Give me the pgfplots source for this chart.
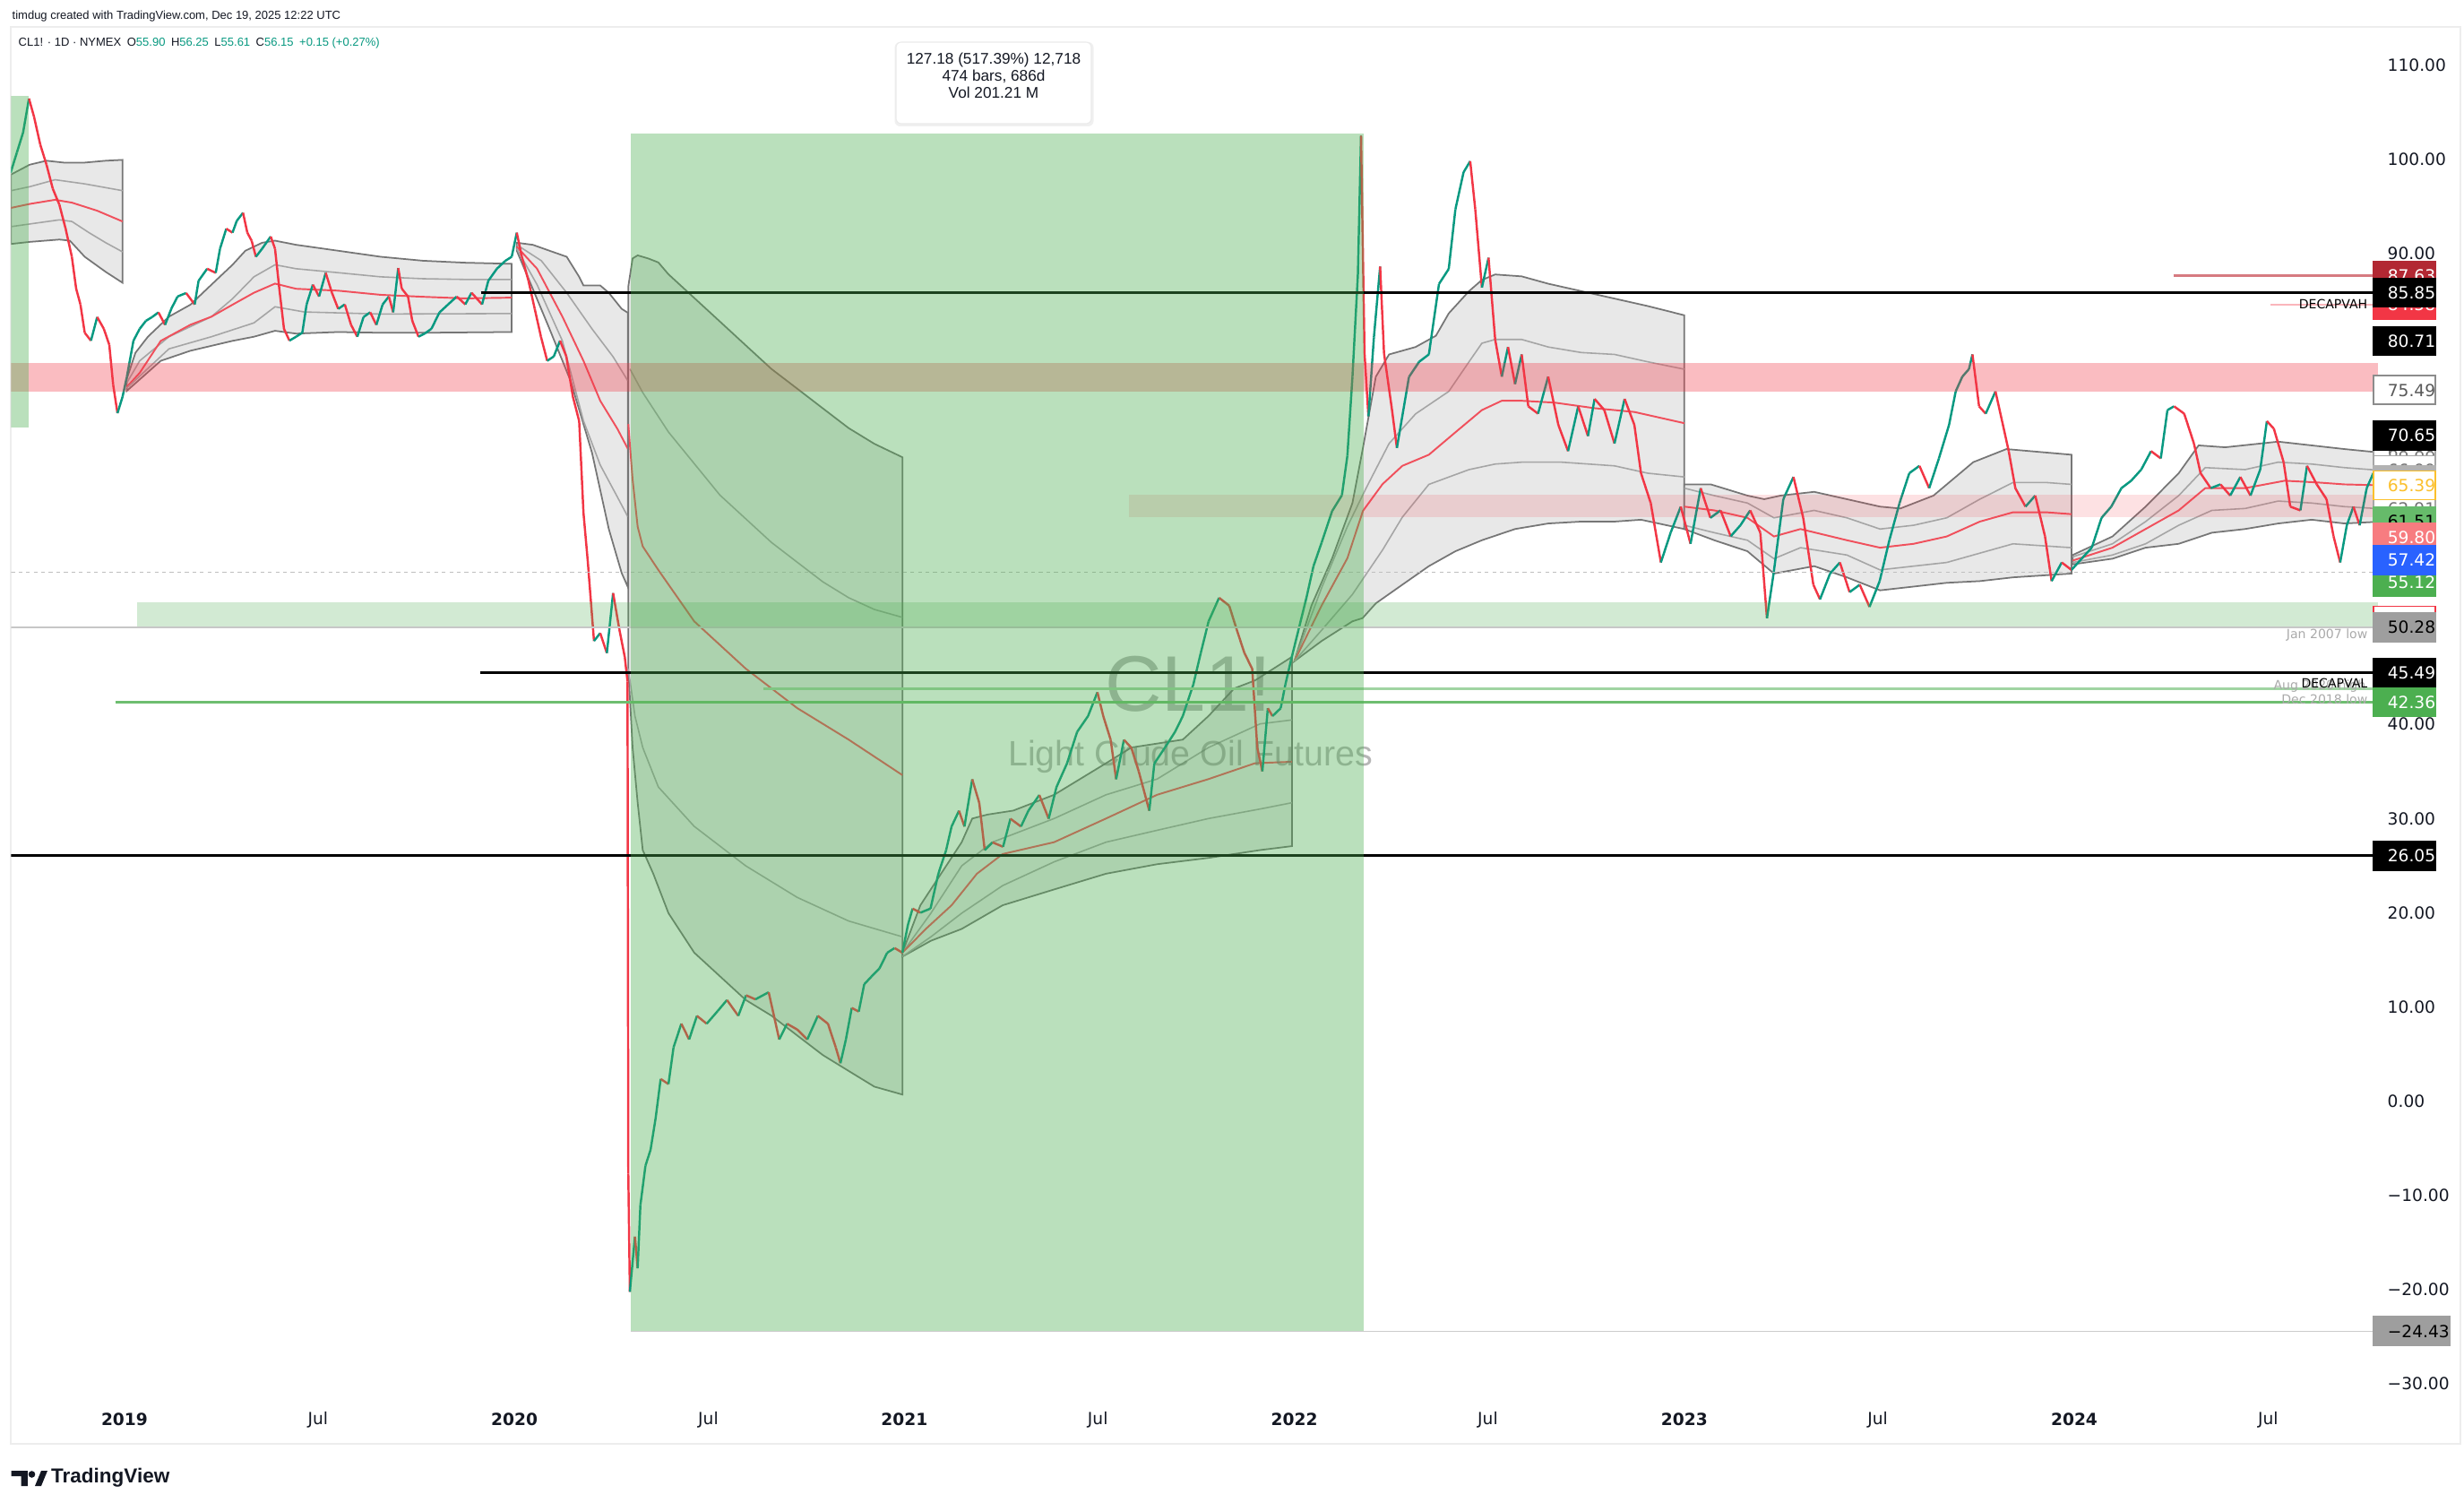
\documentclass[border=0pt]{standalone}
\usepackage{pgfplots}
\pgfplotsset{compat=1.18}
\usepackage{fontspec}
\setmainfont{Liberation Sans}
\newfontfamily\dejavu{DejaVu Sans}

\definecolor{tvgreen}{RGB}{8,153,129}
\definecolor{tvred}{RGB}{242,54,69}
\definecolor{rectgreen}{RGB}{76,175,80}
\definecolor{bandfill}{RGB}{232,232,232}
\definecolor{bandedge}{RGB}{118,118,118}
\definecolor{bandinner}{RGB}{165,165,165}
\definecolor{vwapred}{RGB}{240,80,92}
\definecolor{txtdark}{RGB}{19,23,34}
\definecolor{wm}{RGB}{110,110,110}
\definecolor{boxdred}{RGB}{178,40,51}
\definecolor{boxyellow}{RGB}{251,192,45}
\definecolor{boxlgreen}{RGB}{102,187,106}
\definecolor{boxpink}{RGB}{247,124,128}
\definecolor{boxblue}{RGB}{41,98,255}
\definecolor{boxgreen}{RGB}{76,175,80}
\definecolor{boxgray}{RGB}{158,158,158}
\definecolor{lblgray}{RGB}{170,170,170}
\definecolor{lgreen1}{RGB}{110,190,112}
\definecolor{lgreen2}{RGB}{160,212,162}

\newcommand{\tickfont}{\dejavu\fontsize{5.3pt}{6pt}\selectfont}
\newcommand{\smallfont}{\dejavu\fontsize{4pt}{5pt}\selectfont}
\newcommand{\pbox}[5]{\node[anchor=west, fill=#2, draw=#3, line width=0.45pt, inner sep=0pt, minimum height=0.32cm, text=#4, font=\tickfont] at ([xshift=-0.06cm]#1) {\hspace{0.16cm}#5\hspace{0.07cm}};}

\begin{document}
\begin{tikzpicture}[x=1cm,y=1cm]
\fill[white] (0,0) rectangle (27.5,16.76);
\draw[black!7, line width=0.4pt] (0.12,0.65) rectangle (27.46,16.46);
\begin{axis}[
  at={(0.123cm,1.15cm)}, anchor=south west,
  scale only axis, width=26.417cm, height=15.31cm,
  xmin=2018.709, xmax=2024.779, ymin=-31.64, ymax=114.06,
  clip mode=individual,
  axis line style={draw=none},
  major tick length=0pt,
  scaled x ticks=false, scaled y ticks=false,
  ytick={-30,-20,-10,0,10,20,30,40,50,60,70,80,90,100,110},
  yticklabels={−30.00,−20.00,−10.00,0.00,10.00,20.00,30.00,40.00,50.00,60.00,70.00,80.00,90.00,100.00,110.00},
  yticklabel pos=right,
  yticklabel style={anchor=west, inner sep=0pt, xshift=0.10cm, font=\tickfont, text=txtdark},
  xtick={2019,2019.496,2020,2020.497,2021,2021.496,2022,2022.496,2023,2023.496,2024,2024.497},
  xticklabels={\textbf{2019},Jul,\textbf{2020},Jul,\textbf{2021},Jul,\textbf{2022},Jul,\textbf{2023},Jul,\textbf{2024},Jul},
  xticklabel style={anchor=center, inner sep=0pt, yshift=-0.23cm, font=\tickfont, text=txtdark},
  colormap={updown}{rgb255=(242,54,69) rgb255=(8,153,129)},
  point meta min=0, point meta max=1,
]

% ---------- VWAP band A
\addplot[fill=bandfill, draw=bandedge, line width=0.5pt] coordinates {(2018.709,98.38) (2018.757,99.43) (2018.800,99.85) (2018.844,99.65) (2018.898,99.65) (2018.952,99.85) (2018.995,99.94) (2018.995,86.89) (2018.952,88.04) (2018.898,89.65) (2018.860,91.36) (2018.833,91.48) (2018.757,91.23) (2018.709,91.01)} -- cycle;
\addplot[bandinner, line width=0.45pt] coordinates {(2018.709,96.67) (2018.757,97.09) (2018.822,97.83) (2018.898,97.39) (2018.995,96.67)};
\addplot[vwapred, line width=0.55pt] coordinates {(2018.709,94.84) (2018.757,95.26) (2018.822,95.70) (2018.865,95.40) (2018.930,94.54) (2018.995,93.40)};
\addplot[bandinner, line width=0.45pt] coordinates {(2018.709,92.85) (2018.757,93.13) (2018.833,93.57) (2018.865,93.40) (2018.909,92.21) (2018.952,91.14) (2018.995,90.17)};

% ---------- band B
\addplot[fill=bandfill, draw=bandedge, line width=0.5pt] coordinates {(2019.006,76.69) (2019.028,79.45) (2019.060,81.16) (2019.114,83.29) (2019.169,84.56) (2019.223,86.69) (2019.277,88.80) (2019.310,90.29) (2019.353,91.14) (2019.386,91.36) (2019.440,90.92) (2019.548,90.29) (2019.657,89.65) (2019.765,89.23) (2019.873,89.02) (2019.993,88.90) (2019.993,81.66) (2019.765,81.58) (2019.657,81.58) (2019.548,81.66) (2019.440,81.49) (2019.386,81.79) (2019.332,81.16) (2019.277,80.72) (2019.169,79.67) (2019.093,78.60) (2019.006,75.41)} -- cycle;
\addplot[bandinner, line width=0.45pt] coordinates {(2019.006,76.27) (2019.039,78.60) (2019.114,81.16) (2019.223,83.29) (2019.277,85.19) (2019.332,87.52) (2019.386,88.80) (2019.440,88.38) (2019.548,87.96) (2019.657,87.52) (2019.765,87.32) (2019.873,87.24) (2019.993,87.24)};
\addplot[vwapred, line width=0.55pt] coordinates {(2019.006,75.83) (2019.039,77.32) (2019.093,80.72) (2019.169,82.43) (2019.223,83.29) (2019.277,84.56) (2019.332,85.83) (2019.386,86.80) (2019.440,86.25) (2019.548,86.05) (2019.657,85.61) (2019.765,85.40) (2019.873,85.23) (2019.993,85.31)};
\addplot[bandinner, line width=0.45pt] coordinates {(2019.006,75.71) (2019.114,79.87) (2019.223,81.16) (2019.332,82.63) (2019.386,84.34) (2019.461,83.79) (2019.657,83.57) (2019.993,83.62)};

% ---------- band C
\addplot[fill=bandfill, draw=bandedge, line width=0.5pt] coordinates {(2020.006,91.14) (2020.047,90.92) (2020.090,90.29) (2020.134,89.65) (2020.166,87.52) (2020.177,86.60) (2020.220,86.60) (2020.242,85.83) (2020.275,84.12) (2020.291,83.70) (2020.291,54.57) (2020.275,56.07) (2020.242,60.74) (2020.199,68.83) (2020.144,76.47) (2020.090,81.99) (2020.047,86.25) (2020.006,90.29)} -- cycle;
\addplot[bandinner, line width=0.45pt] coordinates {(2020.006,90.92) (2020.069,89.23) (2020.134,85.83) (2020.199,81.99) (2020.253,79.03) (2020.291,76.47)};
\addplot[vwapred, line width=0.55pt] coordinates {(2020.006,90.72) (2020.058,88.38) (2020.123,83.29) (2020.177,78.60) (2020.220,74.36) (2020.264,71.38) (2020.291,69.25)};
\addplot[bandinner, line width=0.45pt] coordinates {(2020.006,90.51) (2020.058,86.69) (2020.123,80.72) (2020.177,72.23) (2020.220,67.54) (2020.264,64.14) (2020.291,62.03)};

% ---------- band D
\addplot[fill=bandfill, draw=bandedge, line width=0.5pt] coordinates {(2020.292,86.5) (2020.303,89.47) (2020.316,89.80) (2020.343,89.47) (2020.369,89.05) (2020.395,87.79) (2020.461,85.28) (2020.527,82.77) (2020.593,80.25) (2020.659,77.74) (2020.725,75.65) (2020.791,73.55) (2020.857,71.46) (2020.923,69.79) (2020.995,68.36) (2020.995,0.69) (2020.923,1.53) (2020.857,3.20) (2020.791,4.88) (2020.725,6.97) (2020.659,9.07) (2020.593,10.74) (2020.527,13.25) (2020.461,15.76) (2020.395,19.95) (2020.356,24.14) (2020.329,26.65) (2020.316,31.68) (2020.303,37.54) (2020.292,45.92)} -- cycle;
\addplot[bandinner, line width=0.45pt] coordinates {(2020.296,77.74) (2020.329,75.23) (2020.395,71.04) (2020.461,67.69) (2020.527,64.34) (2020.593,61.83) (2020.659,59.32) (2020.725,57.22) (2020.791,55.13) (2020.857,53.45) (2020.923,52.20) (2020.995,51.36)};
\addplot[vwapred, line width=0.55pt] coordinates {(2020.292,71.88) (2020.303,66.02) (2020.316,60.99) (2020.329,58.90) (2020.369,56.39) (2020.461,50.94) (2020.593,45.92) (2020.725,41.73) (2020.857,38.38) (2020.995,34.61)};
\addplot[bandinner, line width=0.45pt] coordinates {(2020.292,45.92) (2020.309,40.89) (2020.329,37.54) (2020.369,33.35) (2020.461,29.17) (2020.593,24.98) (2020.725,21.63) (2020.857,19.12) (2020.995,17.44)};

% ---------- band E
\addplot[fill=bandfill, draw=bandedge, line width=0.5pt] coordinates {(2020.995,15.76) (2021.041,20.79) (2021.094,24.14) (2021.147,27.49) (2021.174,30.00) (2021.213,30.42) (2021.279,30.84) (2021.384,32.52) (2021.517,35.87) (2021.582,37.54) (2021.648,37.96) (2021.714,38.38) (2021.780,40.89) (2021.846,43.82) (2021.899,44.66) (2021.994,47.17) (2021.994,27.07) (2021.912,26.65) (2021.780,25.82) (2021.648,25.15) (2021.517,24.14) (2021.384,22.47) (2021.252,20.79) (2021.147,18.28) (2021.068,17.02) (2020.995,15.34)} -- cycle;
\addplot[bandinner, line width=0.45pt] coordinates {(2020.995,15.76) (2021.068,19.95) (2021.147,24.98) (2021.226,27.49) (2021.384,30.00) (2021.517,32.52) (2021.648,34.19) (2021.780,37.54) (2021.912,40.05) (2021.994,40.47)};
\addplot[vwapred, line width=0.55pt] coordinates {(2020.995,15.76) (2021.055,18.28) (2021.121,20.79) (2021.186,24.14) (2021.252,26.23) (2021.384,27.49) (2021.517,30.00) (2021.648,32.52) (2021.780,34.19) (2021.899,35.87) (2021.994,36.03)};
\addplot[bandinner, line width=0.45pt] coordinates {(2020.995,15.34) (2021.068,17.44) (2021.147,19.95) (2021.252,22.88) (2021.384,25.40) (2021.517,27.49) (2021.648,28.75) (2021.780,30.00) (2021.912,31.01) (2021.994,31.68)};

% ---------- band F
\addplot[fill=bandfill, draw=bandedge, line width=0.5pt] coordinates {(2022.000,46.7) (2022.044,52.62) (2022.097,57.64) (2022.149,63.50) (2022.176,69.37) (2022.209,76.92) (2022.243,79.28) (2022.311,80.07) (2022.363,81.26) (2022.396,83.64) (2022.448,86.00) (2022.481,87.19) (2022.515,87.77) (2022.583,87.57) (2022.651,86.79) (2022.736,86.00) (2022.821,85.21) (2022.906,84.42) (2023.000,83.44) (2023.000,60.74) (2022.889,61.73) (2022.821,61.53) (2022.736,61.53) (2022.651,61.33) (2022.566,60.74) (2022.481,59.55) (2022.413,58.38) (2022.345,56.80) (2022.277,54.83) (2022.209,52.85) (2022.175,51.28) (2022.149,50.94) (2022.070,48.85)} -- cycle;
\addplot[bandinner, line width=0.45pt] coordinates {(2022.000,46.7) (2022.070,54.5) (2022.136,61.0) (2022.184,65.08) (2022.243,69.82) (2022.311,72.97) (2022.396,75.35) (2022.448,78.50) (2022.481,80.47) (2022.515,80.87) (2022.583,80.87) (2022.651,80.07) (2022.736,79.48) (2022.821,79.28) (2022.906,78.50) (2023.000,77.71)};
\addplot[vwapred, line width=0.55pt] coordinates {(2022.000,46.7) (2022.070,52.62) (2022.136,57.64) (2022.176,62.67) (2022.226,65.5) (2022.277,67.45) (2022.345,68.63) (2022.413,71.01) (2022.481,73.37) (2022.532,74.36) (2022.583,74.36) (2022.668,74.16) (2022.770,73.57) (2022.872,73.17) (2023.000,71.98)};
\addplot[bandinner, line width=0.45pt] coordinates {(2022.000,46.7) (2022.070,50.0) (2022.149,53.8) (2022.226,58.5) (2022.277,62.0) (2022.345,65.48) (2022.448,67.05) (2022.515,67.64) (2022.583,67.84) (2022.685,67.84) (2022.821,67.45) (2022.906,66.67) (2023.000,66.27)};

% ---------- band G
\addplot[fill=bandfill, draw=bandedge, line width=0.5pt] coordinates {(2023.000,65.48) (2023.068,65.48) (2023.162,64.29) (2023.205,63.91) (2023.247,64.29) (2023.333,64.69) (2023.502,63.12) (2023.554,62.92) (2023.639,64.29) (2023.741,67.84) (2023.826,69.23) (2023.993,68.63) (2023.993,56.01) (2023.843,55.61) (2023.758,55.21) (2023.673,55.03) (2023.588,54.63) (2023.502,54.23) (2023.417,55.61) (2023.333,56.80) (2023.230,56.01) (2023.162,58.38) (2023.077,59.55) (2023.000,60.74)} -- cycle;
\addplot[bandinner, line width=0.45pt] coordinates {(2023.000,65.08) (2023.077,64.29) (2023.162,63.50) (2023.230,61.93) (2023.333,62.72) (2023.417,61.93) (2023.502,60.74) (2023.588,61.14) (2023.673,61.93) (2023.758,63.91) (2023.843,65.68) (2023.928,65.68) (2023.993,65.48)};
\addplot[vwapred, line width=0.55pt] coordinates {(2023.000,63.12) (2023.077,62.72) (2023.162,61.93) (2023.230,59.95) (2023.298,60.74) (2023.417,59.55) (2023.502,58.76) (2023.588,59.17) (2023.673,59.95) (2023.758,61.53) (2023.843,62.52) (2023.928,62.52) (2023.993,62.32)};
\addplot[bandinner, line width=0.45pt] coordinates {(2023.000,61.14) (2023.077,60.35) (2023.162,59.55) (2023.230,57.59) (2023.298,58.76) (2023.417,57.98) (2023.502,56.40) (2023.588,56.80) (2023.673,57.19) (2023.758,58.18) (2023.843,59.17) (2023.993,58.76)};

% ---------- band H
\addplot[fill=bandfill, draw=bandedge, line width=0.5pt] coordinates {(2023.996,57.98) (2024.098,59.95) (2024.183,63.12) (2024.268,66.67) (2024.319,69.62) (2024.387,69.42) (2024.523,70.02) (2024.609,69.62) (2024.693,69.23) (2024.779,68.88) (2024.779,61.51) (2024.693,61.33) (2024.609,61.73) (2024.523,61.33) (2024.438,60.74) (2024.353,60.35) (2024.268,59.17) (2024.183,58.76) (2024.098,57.59) (2023.996,56.99)} -- cycle;
\addplot[bandinner, line width=0.45pt] coordinates {(2023.996,57.79) (2024.098,59.17) (2024.183,61.53) (2024.268,64.29) (2024.336,67.26) (2024.438,67.05) (2024.523,67.84) (2024.609,67.64) (2024.693,67.26) (2024.779,66.99)};
\addplot[vwapred, line width=0.55pt] coordinates {(2023.996,57.39) (2024.098,58.76) (2024.183,60.74) (2024.268,62.72) (2024.336,65.08) (2024.438,65.08) (2024.540,65.87) (2024.626,65.68) (2024.693,65.48) (2024.779,65.39)};
\addplot[bandinner, line width=0.45pt] coordinates {(2023.996,57.19) (2024.098,57.98) (2024.183,59.17) (2024.268,61.14) (2024.353,62.72) (2024.438,62.92) (2024.523,63.71) (2024.609,63.50) (2024.693,63.12) (2024.779,62.91)};

% watermark (above the bands, below the price)
\node[font=\fontsize{25pt}{25pt}\selectfont, text=wm, text opacity=0.5] at (axis cs:2021.728,44.31) {CL1!};
\node[font=\fontsize{11.2pt}{12pt}\selectfont, text=wm, text opacity=0.5] at (axis cs:2021.734,36.6) {Light Crude Oil Futures};

% ---------- price (segments coloured by direction)
\addplot[mesh, shader=flat corner, point meta=explicit, line width=0.7pt] table[x=x, y=y, meta=m] {
x y m
2018.708 98.58 1
2018.724 100.71 1
2018.740 102.85 1
2018.755 106.45 0
2018.768 104.52 0
2018.784 101.56 0
2018.800 99.43 0
2018.816 96.89 0
2018.833 95.18 0
2018.849 92.63 0
2018.865 89.65 0
2018.876 86.27 0
2018.887 84.59 0
2018.898 81.58 0
2018.914 80.74 1
2018.930 83.25 0
2018.947 82.00 0
2018.961 80.30 0
2018.971 76.05 0
2018.982 73.04 1
2018.995 74.78 1
2019.006 76.89 1
2019.023 80.74 1
2019.039 82.00 1
2019.055 82.85 1
2019.071 83.25 1
2019.087 83.75 0
2019.104 82.42 1
2019.120 84.12 1
2019.136 85.43 1
2019.158 85.80 0
2019.180 84.59 1
2019.190 87.10 1
2019.212 88.38 0
2019.234 87.94 1
2019.245 90.51 1
2019.261 92.63 0
2019.277 92.21 1
2019.288 93.47 1
2019.304 94.32 0
2019.315 92.21 0
2019.326 91.36 0
2019.337 89.65 1
2019.353 90.51 1
2019.375 91.80 0
2019.386 90.51 0
2019.397 86.27 0
2019.409 82.00 0
2019.423 80.74 1
2019.440 81.16 1
2019.456 81.58 1
2019.467 84.59 1
2019.483 86.69 0
2019.499 85.43 1
2019.516 87.94 0
2019.532 85.83 0
2019.548 84.12 1
2019.565 84.59 0
2019.581 82.42 0
2019.597 81.16 1
2019.613 83.25 1
2019.630 83.75 0
2019.646 82.42 1
2019.662 84.59 1
2019.678 85.43 0
2019.689 83.75 1
2019.702 88.45 0
2019.711 86.27 0
2019.727 85.43 0
2019.738 82.85 0
2019.754 81.16 1
2019.770 81.50 1
2019.787 82.00 1
2019.808 83.75 1
2019.830 84.59 1
2019.852 85.43 0
2019.874 84.59 1
2019.890 85.83 0
2019.917 84.59 1
2019.933 87.10 1
2019.955 88.38 1
2019.977 89.23 1
2019.993 89.65 1
2020.006 92.21 0
2020.019 89.65 0
2020.036 87.10 0
2020.052 84.12 0
2020.068 81.16 0
2020.084 78.60 1
2020.101 79.07 1
2020.117 80.74 0
2020.133 79.07 0
2020.150 74.78 0
2020.166 72.20 0
2020.177 62.48 0
2020.188 57.34 0
2020.204 48.85 1
2020.220 49.69 0
2020.237 47.57 1
2020.253 53.94 0
2020.269 50.09 0
2020.283 47.14 0
2020.290 44.56 0
2020.292 -7.70 0
2020.296 -20.26 1
2020.309 -14.40 0
2020.316 -17.75 1
2020.323 -11.05 1
2020.336 -6.86 1
2020.349 -5.19 1
2020.362 -1.84 1
2020.375 2.35 0
2020.395 1.80 1
2020.408 5.70 1
2020.428 8.21 0
2020.448 6.54 1
2020.468 9.05 0
2020.493 8.21 1
2020.521 9.55 1
2020.545 10.73 0
2020.574 9.05 1
2020.594 11.23 0
2020.618 10.80 1
2020.652 11.56 0
2020.679 6.54 1
2020.699 8.21 0
2020.725 7.60 0
2020.751 6.54 1
2020.778 9.05 0
2020.804 8.21 0
2020.824 5.70 0
2020.836 4.02 1
2020.850 6.54 1
2020.865 9.89 0
2020.883 9.50 1
2020.897 12.40 1
2020.916 13.24 1
2020.936 14.08 1
2020.956 15.75 1
2020.975 16.25 0
2020.995 15.75 1
2021.009 18.70 1
2021.021 20.44 0
2021.041 20.00 1
2021.067 20.44 1
2021.087 24.13 1
2021.107 26.64 1
2021.121 29.15 1
2021.140 30.83 0
2021.154 29.15 1
2021.174 34.17 0
2021.192 31.66 0
2021.206 26.64 1
2021.226 27.47 0
2021.253 27.00 1
2021.272 29.98 0
2021.299 29.15 1
2021.318 30.83 1
2021.346 32.50 0
2021.370 29.98 1
2021.390 33.34 1
2021.417 35.85 1
2021.443 39.20 1
2021.471 40.88 1
2021.495 43.41 0
2021.510 40.88 0
2021.529 38.36 0
2021.543 34.17 1
2021.563 38.36 0
2021.582 37.52 0
2021.601 35.01 0
2021.628 30.83 1
2021.641 35.85 1
2021.668 37.52 1
2021.694 39.20 1
2021.714 40.88 1
2021.741 44.23 1
2021.760 47.57 1
2021.780 50.92 1
2021.807 53.44 0
2021.833 52.60 0
2021.852 50.09 0
2021.872 47.57 0
2021.892 45.90 0
2021.905 37.52 0
2021.918 35.01 1
2021.932 41.71 0
2021.944 40.88 1
2021.965 41.71 1
2021.977 44.23 1
2021.991 46.74 1
2022.011 50.09 1
2022.031 53.44 1
2022.049 56.79 1
2022.070 59.30 1
2022.097 62.65 1
2022.122 64.33 1
2022.136 68.51 1
2022.149 76.89 1
2022.163 87.78 1
2022.171 102.50 0
2022.180 79.40 0
2022.190 72.70 1
2022.204 81.07 1
2022.220 88.61 0
2022.230 79.40 0
2022.250 73.54 0
2022.263 69.35 1
2022.294 76.89 1
2022.320 78.50 1
2022.345 79.28 1
2022.371 86.77 1
2022.396 88.36 1
2022.413 94.68 1
2022.434 98.63 1
2022.451 99.80 0
2022.464 94.68 0
2022.481 86.38 1
2022.498 89.55 0
2022.515 80.87 0
2022.532 76.92 1
2022.548 80.07 0
2022.566 76.13 1
2022.583 79.28 0
2022.600 73.77 0
2022.625 72.99 1
2022.651 76.92 0
2022.677 71.80 0
2022.702 69.01 1
2022.728 73.77 0
2022.753 70.61 1
2022.770 74.56 0
2022.795 73.37 0
2022.821 69.82 1
2022.847 74.56 0
2022.872 71.80 0
2022.889 66.67 0
2022.914 63.49 0
2022.940 57.19 1
2022.965 60.35 1
2022.991 63.12 0
2023.016 59.17 1
2023.042 65.08 0
2023.067 61.93 1
2023.093 62.72 0
2023.119 59.97 1
2023.144 61.14 1
2023.169 62.72 0
2023.195 60.35 0
2023.212 51.26 1
2023.229 56.02 1
2023.254 63.91 1
2023.280 66.27 0
2023.305 61.93 0
2023.331 54.83 0
2023.348 53.27 1
2023.374 56.02 1
2023.399 57.19 0
2023.424 54.04 1
2023.450 54.83 0
2023.475 52.47 1
2023.501 55.21 1
2023.526 59.57 1
2023.552 63.49 1
2023.577 66.67 1
2023.603 67.45 0
2023.628 65.08 1
2023.653 68.24 1
2023.679 71.80 1
2023.696 75.35 1
2023.713 76.92 1
2023.730 77.72 1
2023.739 79.28 0
2023.756 73.77 0
2023.773 72.99 1
2023.798 75.35 0
2023.815 72.20 0
2023.832 69.01 0
2023.849 65.08 0
2023.875 63.12 1
2023.900 64.29 0
2023.925 59.97 0
2023.942 55.21 1
2023.968 57.19 0
2023.993 56.40 1
2024.019 57.59 1
2024.045 58.76 1
2024.070 61.93 1
2024.095 63.12 1
2024.121 65.08 1
2024.146 65.87 1
2024.172 67.06 1
2024.197 69.01 0
2024.222 68.24 1
2024.239 73.37 1
2024.256 73.77 0
2024.282 72.99 0
2024.307 69.82 0
2024.324 66.67 0
2024.350 65.08 1
2024.375 65.48 0
2024.400 64.29 1
2024.426 66.27 0
2024.452 64.29 1
2024.477 67.06 1
2024.494 72.20 0
2024.512 71.39 0
2024.537 67.84 0
2024.554 63.12 0
2024.580 62.72 1
2024.597 67.45 0
2024.622 65.48 0
2024.647 63.91 0
2024.665 59.97 0
2024.682 57.19 1
2024.699 61.14 1
2024.716 63.12 0
2024.732 61.14 1
2024.750 65.08 1
2024.767 66.67 0
};

% ---------- horizontal zones
\addplot[fill=tvred, fill opacity=0.33, draw=none] coordinates {(2018.709,75.3) (2024.779,75.3) (2024.779,78.4) (2018.709,78.4)} -- cycle;
\addplot[fill=tvred, fill opacity=0.15, draw=none] coordinates {(2021.576,62.0) (2024.779,62.0) (2024.779,64.4) (2021.576,64.4)} -- cycle;
\addplot[fill=rectgreen, fill opacity=0.25, draw=none] coordinates {(2019.033,50.28) (2024.779,50.28) (2024.779,53.0) (2019.033,53.0)} -- cycle;

% ---------- horizontal lines
\addplot[black!22, line width=0.6pt] coordinates {(2018.709,50.28) (2024.779,50.28)};
\addplot[black!25, line width=0.4pt, dash pattern=on 1.2pt off 1.2pt] coordinates {(2018.709,56.15) (2024.779,56.15)};
\addplot[black!20, line width=0.4pt] coordinates {(2020.298,-24.43) (2024.779,-24.43)};
\addplot[black, line width=0.9pt] coordinates {(2019.914,85.85) (2024.779,85.85)};
\addplot[black, line width=0.9pt] coordinates {(2019.912,45.49) (2024.779,45.49)};
\addplot[black, line width=0.9pt] coordinates {(2018.709,26.05) (2024.779,26.05)};
\addplot[lgreen1, line width=0.8pt] coordinates {(2018.976,42.36) (2024.779,42.36)};
\addplot[lgreen2, line width=0.6pt] coordinates {(2020.638,43.78) (2024.779,43.78)};
\addplot[color={rgb,255:red,214;green,122;blue,128}, line width=0.8pt] coordinates {(2024.254,87.63) (2024.779,87.63)};
\addplot[color={rgb,255:red,250;green,182;blue,187}, line width=0.6pt] coordinates {(2024.504,84.58) (2024.779,84.58)};

% ---------- green date/price range rectangles
\addplot[fill=rectgreen, fill opacity=0.38, draw=none] coordinates {(2020.298,-24.43) (2022.179,-24.43) (2022.179,102.75) (2020.298,102.75)} -- cycle;
\addplot[fill=rectgreen, fill opacity=0.38, draw=none] coordinates {(2018.709,71.5) (2018.754,71.5) (2018.754,106.7) (2018.709,106.7)} -- cycle;

% ---------- line labels
\node[anchor=east, xshift=-0.11cm, font=\smallfont, text=black, inner sep=0pt] at (axis cs:2024.779,84.58) {DECAPVAH};
\node[anchor=east, xshift=-0.11cm, font=\smallfont, text=lblgray, inner sep=0pt] at (axis cs:2024.779,49.45) {Jan 2007 low};
\node[anchor=east, xshift=-0.13cm, font=\smallfont, text=lblgray, inner sep=0pt] at (axis cs:2024.779,44.05) {Aug 2020 high};
\node[anchor=east, xshift=-0.11cm, font=\smallfont, text=lblgray, inner sep=0pt] at (axis cs:2024.779,42.70) {Dec 2018 low};
\node[anchor=east, xshift=-0.11cm, font=\smallfont, text=black, inner sep=0pt] at (axis cs:2024.779,44.40) {DECAPVAL};

% coordinates for price-scale boxes
\coordinate (c8763) at (axis cs:2024.779,87.63);
\coordinate (c8585) at (axis cs:2024.779,85.85);
\coordinate (c8458) at (axis cs:2024.779,84.58);
\coordinate (c8071) at (axis cs:2024.779,80.71);
\coordinate (c7549) at (axis cs:2024.779,75.49);
\coordinate (c7065) at (axis cs:2024.779,70.65);
\coordinate (c6888) at (axis cs:2024.779,68.88);
\coordinate (c6699) at (axis cs:2024.779,66.99);
\coordinate (c6595) at (axis cs:2024.779,65.95);
\coordinate (c6539) at (axis cs:2024.779,65.39);
\coordinate (c6291) at (axis cs:2024.779,62.91);
\coordinate (c6151) at (axis cs:2024.779,61.51);
\coordinate (c5980) at (axis cs:2024.779,59.80);
\coordinate (c5742) at (axis cs:2024.779,57.42);
\coordinate (c5512) at (axis cs:2024.779,55.12);
\coordinate (c5100) at (axis cs:2024.779,51.00);
\coordinate (c5028) at (axis cs:2024.779,50.28);
\coordinate (c4549) at (axis cs:2024.779,45.49);
\coordinate (c4236) at (axis cs:2024.779,42.36);
\coordinate (c2605) at (axis cs:2024.779,26.05);
\coordinate (cm2443) at (axis cs:2024.779,-24.43);
\end{axis}

% ---------- price-scale boxes
\pbox{c8763}{boxdred}{boxdred}{white}{87.63}
\pbox{c8458}{tvred}{tvred}{white}{84.58}
\pbox{c8585}{black}{black}{white}{85.85}
\pbox{c8071}{black}{black}{white}{80.71}
\pbox{c7549}{white}{black!45}{black!65}{75.49}
\pbox{c6888}{white}{black!35}{black!55}{68.88}
\pbox{c7065}{black}{black}{white}{70.65}
\pbox{c6699}{white}{black!35}{black!55}{66.99}
\pbox{c6595}{black!30}{black!30}{black!30}{65.95}
\pbox{c6291}{white}{black!35}{black!55}{62.91}
\pbox{c6539}{white}{boxyellow}{boxyellow}{65.39}
\pbox{c6151}{boxlgreen}{boxlgreen}{black}{61.51}
\pbox{c5980}{boxpink}{boxpink}{white}{59.80}
\pbox{c5512}{boxgreen}{boxgreen}{white}{55.12}
\pbox{c5742}{boxblue}{boxblue}{white}{57.42}
\pbox{c5100}{white}{tvred}{white}{51.00}
\pbox{c5028}{boxgray}{boxgray}{black}{50.28}
\pbox{c4549}{black}{black}{white}{45.49}
\pbox{c4236}{boxgreen}{boxgreen}{white}{42.36}
\pbox{c2605}{black}{black}{white}{26.05}
\pbox{cm2443}{boxgray}{boxgray}{black}{−24.43}

% ---------- header
\node[anchor=west, inner sep=0pt, font=\fontsize{3.7pt}{4pt}\selectfont, text=txtdark] at (0.13,16.58) {timdug created with TradingView.com, Dec 19, 2025 12:22 UTC};
\node[anchor=west, inner sep=0pt, font=\fontsize{3.7pt}{4pt}\selectfont, text=txtdark] at (0.20,16.28) {CL1! · 1D · NYMEX\enspace O\textcolor{tvgreen}{55.90}\enspace H\textcolor{tvgreen}{56.25}\enspace L\textcolor{tvgreen}{55.61}\enspace C\textcolor{tvgreen}{56.15}\enspace\textcolor{tvgreen}{+0.15 (+0.27\%)}};

% ---------- measurement info box
\fill[black!6, rounded corners=0.06cm] (9.985,15.35) rectangle (12.205,16.29);
\filldraw[fill=white, draw=black!8, line width=0.3pt, rounded corners=0.06cm] (10.00,15.38) rectangle (12.18,16.29);
\node[font=\fontsize{4.9pt}{5.5pt}\selectfont, text=txtdark] at (11.09,16.09) {127.18 (517.39\%) 12,718};
\node[font=\fontsize{4.9pt}{5.5pt}\selectfont, text=txtdark] at (11.09,15.91) {474 bars, 686d};
\node[font=\fontsize{4.9pt}{5.5pt}\selectfont, text=txtdark] at (11.09,15.73) {Vol 201.21 M};

% ---------- TradingView logo
\fill[txtdark] (0.125,0.35) -- (0.31,0.35) -- (0.31,0.18) -- (0.235,0.18) -- (0.235,0.29) -- (0.125,0.29) -- cycle;
\fill[txtdark] (0.355,0.31) circle (0.038);
\fill[txtdark] (0.39,0.18) -- (0.46,0.18) -- (0.53,0.35) -- (0.46,0.35) -- cycle;
\node[anchor=west, inner sep=0pt, font=\bfseries\fontsize{6.4pt}{7pt}\selectfont, text=txtdark] at (0.565,0.27) {TradingView};

\pgfresetboundingbox
\useasboundingbox (0,0) rectangle (27.5,16.76);
\end{tikzpicture}
\end{document}
